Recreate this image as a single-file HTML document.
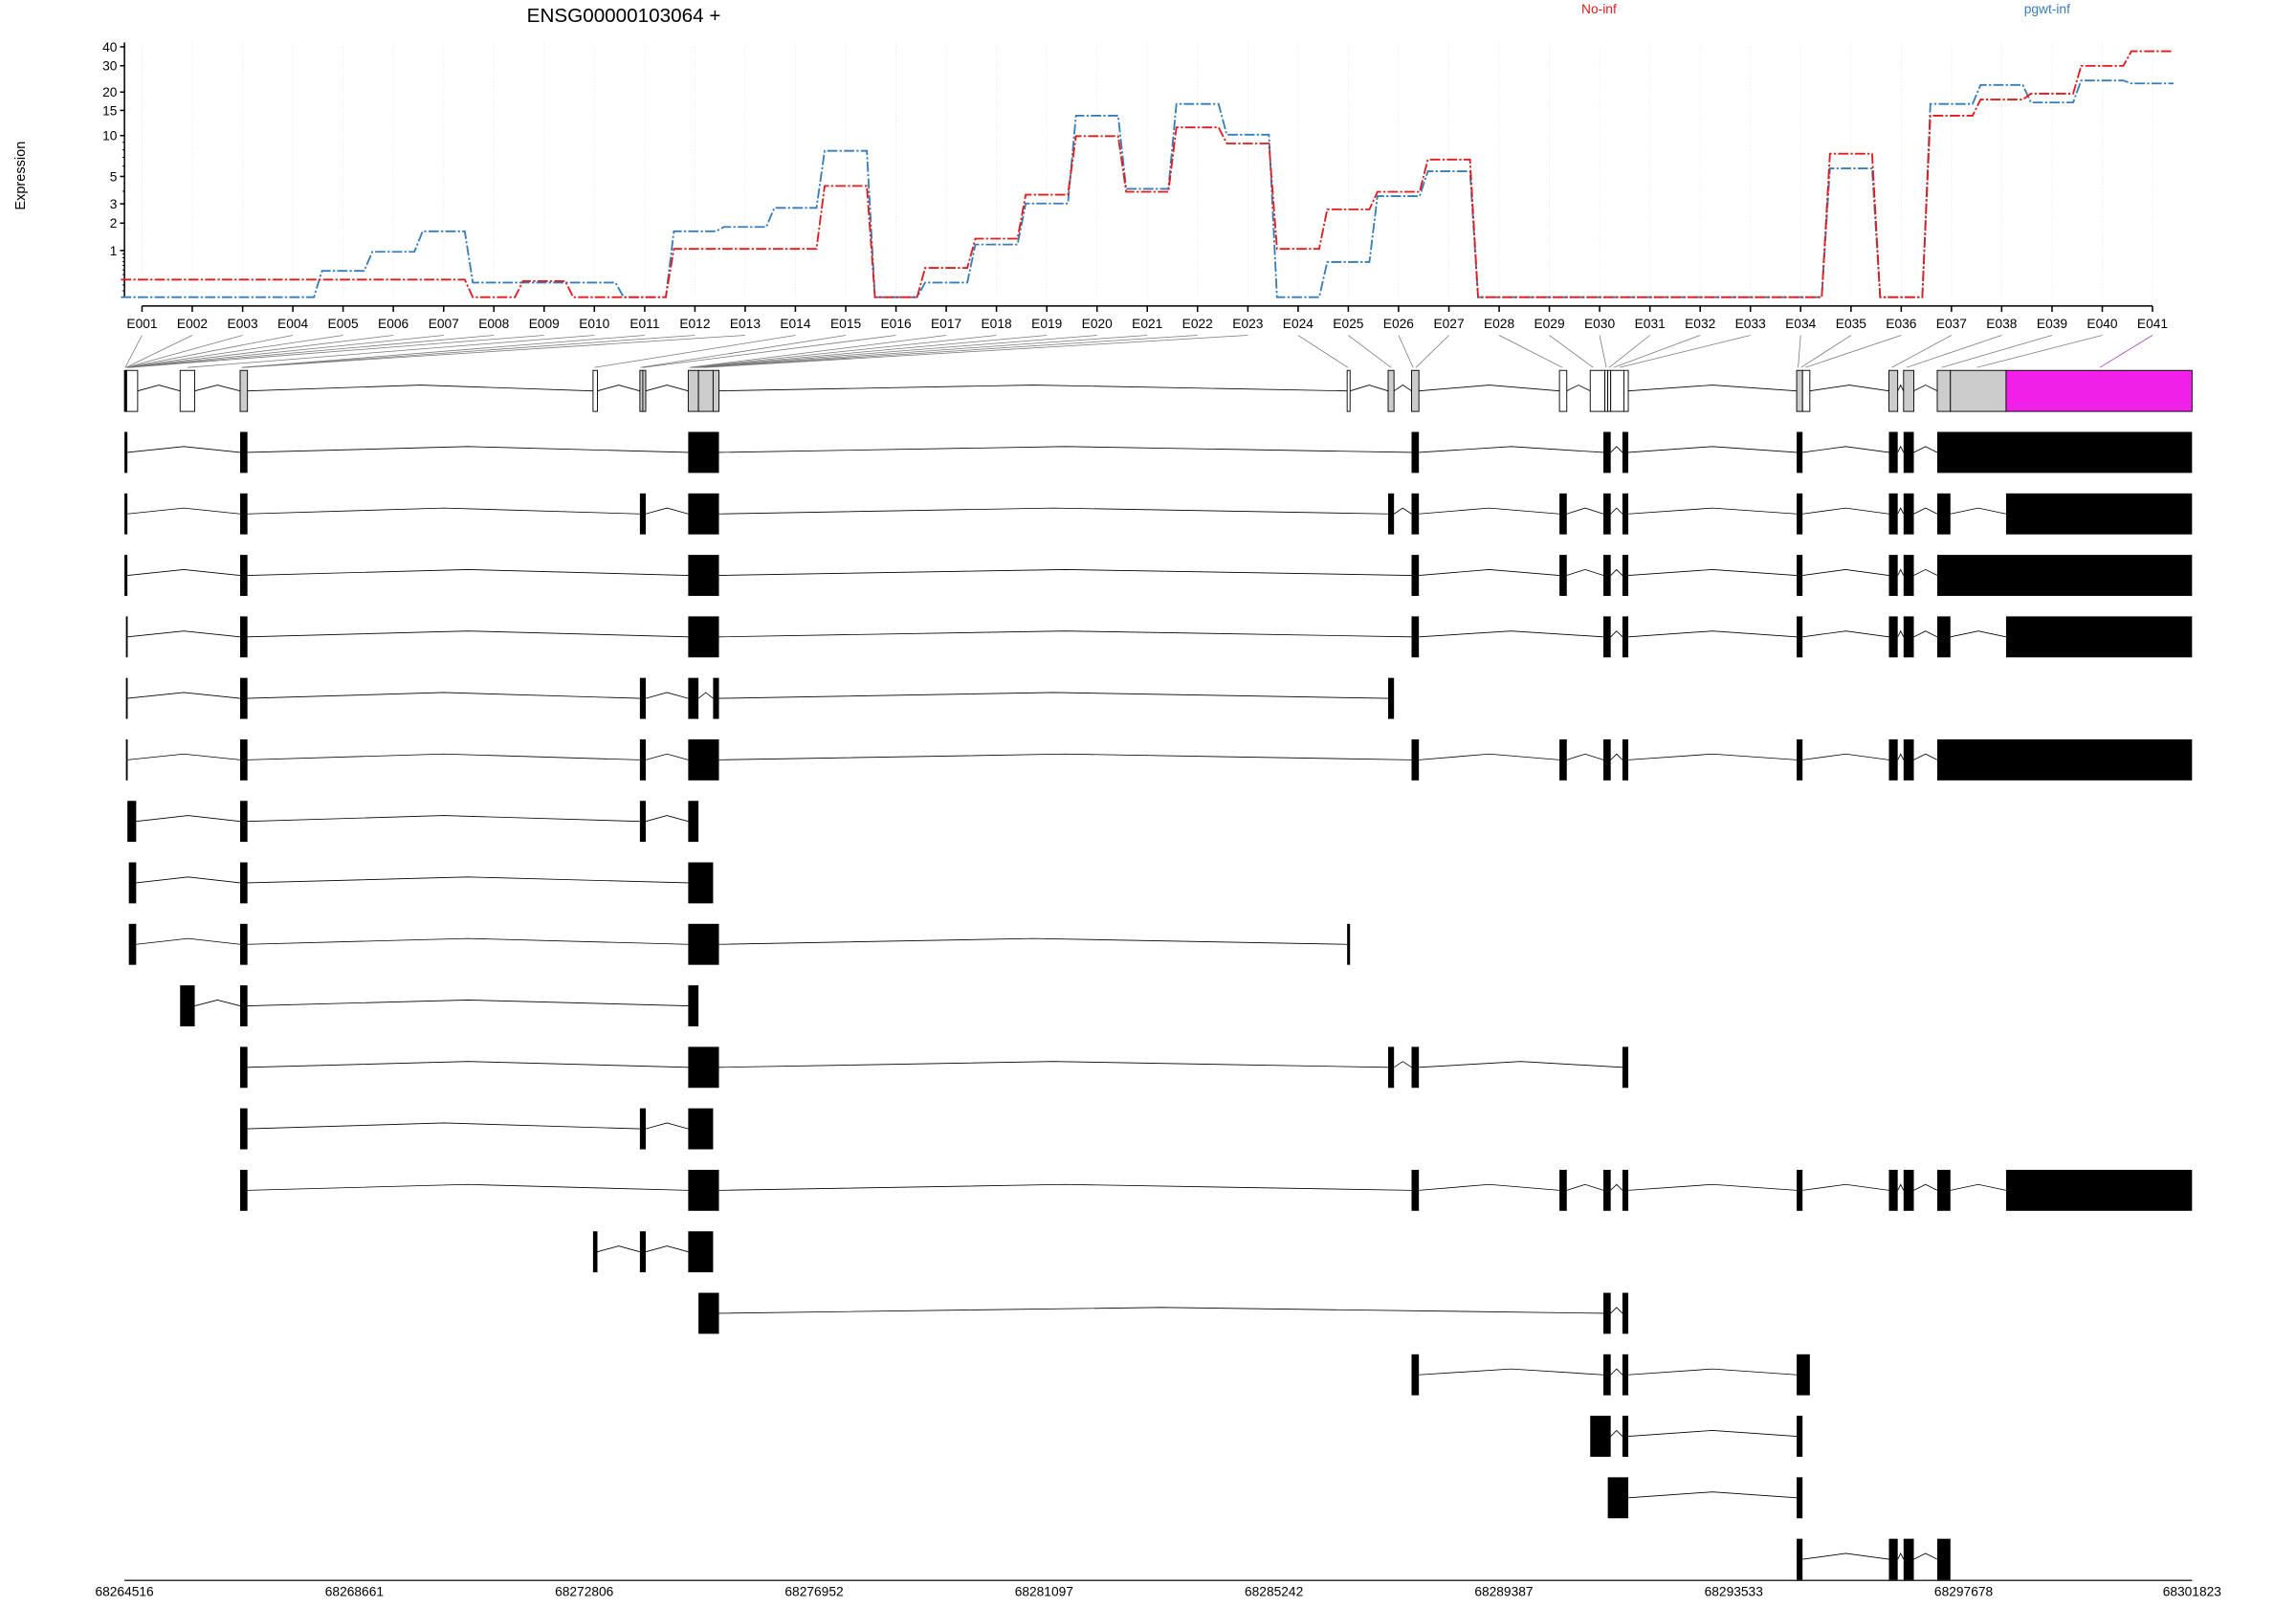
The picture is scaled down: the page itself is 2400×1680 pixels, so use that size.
<!DOCTYPE html>
<html><head><meta charset="utf-8"><style>html,body{margin:0;padding:0;background:#fff}svg{display:block}</style></head>
<body>
<svg xmlns="http://www.w3.org/2000/svg" width="2400" height="1680" viewBox="0 0 1568 1097.6" font-family="Liberation Sans, sans-serif">
<rect x="0" y="0" width="1568" height="1097.6" fill="#fff"/>
<text x="426" y="15" font-size="13.5" text-anchor="middle">ENSG00000103064 +</text>
<text x="1092" y="9" font-size="9" fill="#e41a1c" text-anchor="middle">No-inf</text>
<text x="1398" y="9" font-size="9" fill="#377eb8" text-anchor="middle">pgwt-inf</text>
<text transform="translate(17,120) rotate(-90)" font-size="9.5" text-anchor="middle">Expression</text>
<g stroke="#eee" stroke-width="0.6" stroke-dasharray="1,1">
<line x1="97" y1="30" x2="97" y2="203"/><line x1="131.3" y1="30" x2="131.3" y2="203"/><line x1="165.7" y1="30" x2="165.7" y2="203"/><line x1="200" y1="30" x2="200" y2="203"/><line x1="234.3" y1="30" x2="234.3" y2="203"/><line x1="268.6" y1="30" x2="268.6" y2="203"/><line x1="303" y1="30" x2="303" y2="203"/><line x1="337.3" y1="30" x2="337.3" y2="203"/><line x1="371.6" y1="30" x2="371.6" y2="203"/><line x1="405.9" y1="30" x2="405.9" y2="203"/><line x1="440.3" y1="30" x2="440.3" y2="203"/><line x1="474.6" y1="30" x2="474.6" y2="203"/><line x1="508.9" y1="30" x2="508.9" y2="203"/><line x1="543.2" y1="30" x2="543.2" y2="203"/><line x1="577.6" y1="30" x2="577.6" y2="203"/><line x1="611.9" y1="30" x2="611.9" y2="203"/><line x1="646.2" y1="30" x2="646.2" y2="203"/><line x1="680.5" y1="30" x2="680.5" y2="203"/><line x1="714.9" y1="30" x2="714.9" y2="203"/><line x1="749.2" y1="30" x2="749.2" y2="203"/><line x1="783.5" y1="30" x2="783.5" y2="203"/><line x1="817.8" y1="30" x2="817.8" y2="203"/><line x1="852.2" y1="30" x2="852.2" y2="203"/><line x1="886.5" y1="30" x2="886.5" y2="203"/><line x1="920.8" y1="30" x2="920.8" y2="203"/><line x1="955.1" y1="30" x2="955.1" y2="203"/><line x1="989.5" y1="30" x2="989.5" y2="203"/><line x1="1023.8" y1="30" x2="1023.8" y2="203"/><line x1="1058.1" y1="30" x2="1058.1" y2="203"/><line x1="1092.4" y1="30" x2="1092.4" y2="203"/><line x1="1126.8" y1="30" x2="1126.8" y2="203"/><line x1="1161.1" y1="30" x2="1161.1" y2="203"/><line x1="1195.4" y1="30" x2="1195.4" y2="203"/><line x1="1229.7" y1="30" x2="1229.7" y2="203"/><line x1="1264.1" y1="30" x2="1264.1" y2="203"/><line x1="1298.4" y1="30" x2="1298.4" y2="203"/><line x1="1332.7" y1="30" x2="1332.7" y2="203"/><line x1="1367" y1="30" x2="1367" y2="203"/><line x1="1401.4" y1="30" x2="1401.4" y2="203"/><line x1="1435.7" y1="30" x2="1435.7" y2="203"/><line x1="1470" y1="30" x2="1470" y2="203"/>
</g>
<g stroke="#000" stroke-width="1">
<line x1="85" y1="29" x2="85" y2="203.5"/>
<line x1="82" y1="32" x2="85" y2="32"/><line x1="82" y1="44.9" x2="85" y2="44.9"/><line x1="82" y1="62.9" x2="85" y2="62.9"/><line x1="82" y1="75.4" x2="85" y2="75.4"/><line x1="82" y1="92.6" x2="85" y2="92.6"/><line x1="82" y1="120.5" x2="85" y2="120.5"/><line x1="82" y1="139.2" x2="85" y2="139.2"/><line x1="82" y1="152.4" x2="85" y2="152.4"/><line x1="82" y1="171.1" x2="85" y2="171.1"/>
</g>
<g stroke="#000" stroke-width="0.6">
<line x1="83.5" y1="130.6" x2="85" y2="130.6"/><line x1="83.5" y1="113.5" x2="85" y2="113.5"/><line x1="83.5" y1="107.5" x2="85" y2="107.5"/><line x1="83.5" y1="102.3" x2="85" y2="102.3"/><line x1="83.5" y1="97.2" x2="85" y2="97.2"/>
<line x1="83.5" y1="198.6" x2="85" y2="198.6"/><line x1="83.5" y1="194.6" x2="85" y2="194.6"/><line x1="83.5" y1="190.9" x2="85" y2="190.9"/><line x1="83.5" y1="187.5" x2="85" y2="187.5"/><line x1="83.5" y1="184.3" x2="85" y2="184.3"/><line x1="83.5" y1="181.3" x2="85" y2="181.3"/><line x1="83.5" y1="178.6" x2="85" y2="178.6"/><line x1="83.5" y1="176" x2="85" y2="176"/><line x1="83.5" y1="173.5" x2="85" y2="173.5"/>
</g>
<g font-size="9" text-anchor="end">
<text x="80" y="35.2">40</text><text x="80" y="48.1">30</text><text x="80" y="66.1">20</text><text x="80" y="78.6">15</text><text x="80" y="95.8">10</text><text x="80" y="123.7">5</text><text x="80" y="142.4">3</text><text x="80" y="155.6">2</text><text x="80" y="174.3">1</text>
</g>
<polyline fill="none" stroke="#377eb8" stroke-width="1.2" stroke-dasharray="7,1.5,1.5,1.5" points="82.6,203 111.4,203 116.9,203 145.7,203 151.3,203 180.1,203 185.6,203 214.4,203 219.9,185 248.7,185 254.2,172 283,172 288.6,158 317.4,158 322.9,193 351.7,193 357.2,193 386,193 391.5,193 420.3,193 425.9,203 454.7,203 460.2,158 489,158 494.5,155 523.3,155 528.8,142 557.6,142 563.2,103 592,103 597.5,203 626.3,203 631.8,193 660.6,193 666.1,167 694.9,167 700.5,139 729.3,139 734.8,79 763.6,79 769.1,129 797.9,129 803.4,71 832.2,71 837.8,92 866.6,92 872.1,203 900.9,203 906.4,179 935.2,179 940.7,134 969.5,134 975.1,117 1003.9,117 1009.4,203 1038.2,203 1043.7,203 1072.5,203 1078,203 1106.8,203 1112.4,203 1141.2,203 1146.7,203 1175.5,203 1181,203 1209.8,203 1215.3,203 1244.1,203 1249.7,115 1278.5,115 1284,203 1312.8,203 1318.3,71 1347.1,71 1352.6,58 1381.4,58 1387,70 1415.8,70 1421.3,55 1450.1,55 1455.6,57 1484.4,57"/>
<polyline fill="none" stroke="#e41a1c" stroke-width="1.2" stroke-dasharray="7,1.5,1.5,1.5" points="82.6,191 111.4,191 116.9,191 145.7,191 151.3,191 180.1,191 185.6,191 214.4,191 219.9,191 248.7,191 254.2,191 283,191 288.6,191 317.4,191 322.9,203 351.7,203 357.2,192 386,192 391.5,203 420.3,203 425.9,203 454.7,203 460.2,170 489,170 494.5,170 523.3,170 528.8,170 557.6,170 563.2,127 592,127 597.5,203 626.3,203 631.8,183 660.6,183 666.1,163 694.9,163 700.5,133 729.3,133 734.8,93 763.6,93 769.1,131 797.9,131 803.4,87 832.2,87 837.8,98 866.6,98 872.1,170 900.9,170 906.4,143 935.2,143 940.7,131 969.5,131 975.1,109 1003.9,109 1009.4,203 1038.2,203 1043.7,203 1072.5,203 1078,203 1106.8,203 1112.4,203 1141.2,203 1146.7,203 1175.5,203 1181,203 1209.8,203 1215.3,203 1244.1,203 1249.7,105 1278.5,105 1284,203 1312.8,203 1318.3,79 1347.1,79 1352.6,68 1381.4,68 1387,64 1415.8,64 1421.3,45 1450.1,45 1455.6,35 1484.4,35"/>
<g stroke="#000" stroke-width="1">
<line x1="97" y1="209" x2="1470" y2="209"/>
<line x1="97" y1="209" x2="97" y2="213"/><line x1="131.3" y1="209" x2="131.3" y2="213"/><line x1="165.7" y1="209" x2="165.7" y2="213"/><line x1="200" y1="209" x2="200" y2="213"/><line x1="234.3" y1="209" x2="234.3" y2="213"/><line x1="268.6" y1="209" x2="268.6" y2="213"/><line x1="303" y1="209" x2="303" y2="213"/><line x1="337.3" y1="209" x2="337.3" y2="213"/><line x1="371.6" y1="209" x2="371.6" y2="213"/><line x1="405.9" y1="209" x2="405.9" y2="213"/><line x1="440.3" y1="209" x2="440.3" y2="213"/><line x1="474.6" y1="209" x2="474.6" y2="213"/><line x1="508.9" y1="209" x2="508.9" y2="213"/><line x1="543.2" y1="209" x2="543.2" y2="213"/><line x1="577.6" y1="209" x2="577.6" y2="213"/><line x1="611.9" y1="209" x2="611.9" y2="213"/><line x1="646.2" y1="209" x2="646.2" y2="213"/><line x1="680.5" y1="209" x2="680.5" y2="213"/><line x1="714.9" y1="209" x2="714.9" y2="213"/><line x1="749.2" y1="209" x2="749.2" y2="213"/><line x1="783.5" y1="209" x2="783.5" y2="213"/><line x1="817.8" y1="209" x2="817.8" y2="213"/><line x1="852.2" y1="209" x2="852.2" y2="213"/><line x1="886.5" y1="209" x2="886.5" y2="213"/><line x1="920.8" y1="209" x2="920.8" y2="213"/><line x1="955.1" y1="209" x2="955.1" y2="213"/><line x1="989.5" y1="209" x2="989.5" y2="213"/><line x1="1023.8" y1="209" x2="1023.8" y2="213"/><line x1="1058.1" y1="209" x2="1058.1" y2="213"/><line x1="1092.4" y1="209" x2="1092.4" y2="213"/><line x1="1126.8" y1="209" x2="1126.8" y2="213"/><line x1="1161.1" y1="209" x2="1161.1" y2="213"/><line x1="1195.4" y1="209" x2="1195.4" y2="213"/><line x1="1229.7" y1="209" x2="1229.7" y2="213"/><line x1="1264.1" y1="209" x2="1264.1" y2="213"/><line x1="1298.4" y1="209" x2="1298.4" y2="213"/><line x1="1332.7" y1="209" x2="1332.7" y2="213"/><line x1="1367" y1="209" x2="1367" y2="213"/><line x1="1401.4" y1="209" x2="1401.4" y2="213"/><line x1="1435.7" y1="209" x2="1435.7" y2="213"/><line x1="1470" y1="209" x2="1470" y2="213"/>
</g>
<g font-size="9" text-anchor="middle">
<text x="97" y="224">E001</text><text x="131.3" y="224">E002</text><text x="165.7" y="224">E003</text><text x="200" y="224">E004</text><text x="234.3" y="224">E005</text><text x="268.6" y="224">E006</text><text x="303" y="224">E007</text><text x="337.3" y="224">E008</text><text x="371.6" y="224">E009</text><text x="405.9" y="224">E010</text><text x="440.3" y="224">E011</text><text x="474.6" y="224">E012</text><text x="508.9" y="224">E013</text><text x="543.2" y="224">E014</text><text x="577.6" y="224">E015</text><text x="611.9" y="224">E016</text><text x="646.2" y="224">E017</text><text x="680.5" y="224">E018</text><text x="714.9" y="224">E019</text><text x="749.2" y="224">E020</text><text x="783.5" y="224">E021</text><text x="817.8" y="224">E022</text><text x="852.2" y="224">E023</text><text x="886.5" y="224">E024</text><text x="920.8" y="224">E025</text><text x="955.1" y="224">E026</text><text x="989.5" y="224">E027</text><text x="1023.8" y="224">E028</text><text x="1058.1" y="224">E029</text><text x="1092.4" y="224">E030</text><text x="1126.8" y="224">E031</text><text x="1161.1" y="224">E032</text><text x="1195.4" y="224">E033</text><text x="1229.7" y="224">E034</text><text x="1264.1" y="224">E035</text><text x="1298.4" y="224">E036</text><text x="1332.7" y="224">E037</text><text x="1367" y="224">E038</text><text x="1401.4" y="224">E039</text><text x="1435.7" y="224">E040</text><text x="1470" y="224">E041</text>
</g>
<g stroke="#777" stroke-width="0.5">
<line x1="97" y1="229" x2="85.5" y2="251"/><line x1="131.3" y1="229" x2="86" y2="251"/><line x1="165.7" y1="229" x2="86.3" y2="251"/><line x1="200" y1="229" x2="86.6" y2="251"/><line x1="234.3" y1="229" x2="86.9" y2="251"/><line x1="268.6" y1="229" x2="87.2" y2="251"/><line x1="303" y1="229" x2="87.5" y2="251"/><line x1="337.3" y1="229" x2="87.8" y2="251"/><line x1="371.6" y1="229" x2="88.1" y2="251"/><line x1="405.9" y1="229" x2="128" y2="251"/><line x1="440.3" y1="229" x2="165" y2="251"/><line x1="474.6" y1="229" x2="165.5" y2="251"/><line x1="508.9" y1="229" x2="166" y2="251"/><line x1="543.2" y1="229" x2="406" y2="251"/><line x1="577.6" y1="229" x2="437.5" y2="251"/><line x1="611.9" y1="229" x2="439" y2="251"/><line x1="646.2" y1="229" x2="471" y2="251"/><line x1="680.5" y1="229" x2="472" y2="251"/><line x1="714.9" y1="229" x2="473" y2="251"/><line x1="749.2" y1="229" x2="474" y2="251"/><line x1="783.5" y1="229" x2="476" y2="251"/><line x1="817.8" y1="229" x2="478" y2="251"/><line x1="852.2" y1="229" x2="481" y2="251"/><line x1="886.5" y1="229" x2="920.5" y2="251"/><line x1="920.8" y1="229" x2="950" y2="251"/><line x1="955.1" y1="229" x2="965" y2="251"/><line x1="989.5" y1="229" x2="967" y2="251"/><line x1="1023.8" y1="229" x2="1067" y2="251"/><line x1="1058.1" y1="229" x2="1088" y2="251"/><line x1="1092.4" y1="229" x2="1097" y2="251"/><line x1="1126.8" y1="229" x2="1099" y2="251"/><line x1="1161.1" y1="229" x2="1102" y2="251"/><line x1="1195.4" y1="229" x2="1106" y2="251"/><line x1="1229.7" y1="229" x2="1228" y2="251"/><line x1="1264.1" y1="229" x2="1230" y2="251"/><line x1="1298.4" y1="229" x2="1233" y2="251"/><line x1="1332.7" y1="229" x2="1292" y2="251"/><line x1="1367" y1="229" x2="1302" y2="251"/><line x1="1401.4" y1="229" x2="1326" y2="251"/><line x1="1435.7" y1="229" x2="1350" y2="251"/>
<line x1="1470" y1="229" x2="1434" y2="251" stroke="#a040c0"/>
</g>
<g fill="none" stroke="#000" stroke-width="0.55">
<path d="M94 267L108.5 263L123 267M133 267L148.5 263L164 267M169 267L287 263L405 267M408 267L422.5 263L437 267M441 267L455.5 263L470 267M491 267L705.5 263L920 267M922 267L935 263L948 267M952 267L958 263L964 267M969 267L1017 263L1065 267M1070 267L1078 263L1086 267M1112 267L1169.5 263L1227 267M1236 267L1263 263L1290 267M1296 267L1298 263L1300 267M1307 267L1315 263L1323 267"/>
<path d="M87 309L125.5 305L164 309M169 309L319.5 305L470 309M491 309L727.5 305L964 309M969 309L1032 305L1095 309M1100 309L1104 305L1108 309M1112 309L1169.5 305L1227 309M1231 309L1260.5 305L1290 309M1296 309L1298 305L1300 309M1307 309L1315 305L1323 309"/>
<path d="M87 351L125.5 347L164 351M169 351L303 347L437 351M441 351L455.5 347L470 351M491 351L719.5 347L948 351M952 351L958 347L964 351M969 351L1017 347L1065 351M1070 351L1082.5 347L1095 351M1100 351L1104 347L1108 351M1112 351L1169.5 347L1227 351M1231 351L1260.5 347L1290 351M1296 351L1298 347L1300 351M1307 351L1315 347L1323 351M1332 351L1351 347L1370 351"/>
<path d="M87 393L125.5 389L164 393M169 393L319.5 389L470 393M491 393L727.5 389L964 393M969 393L1017 389L1065 393M1070 393L1082.5 389L1095 393M1100 393L1104 389L1108 393M1112 393L1169.5 389L1227 393M1231 393L1260.5 389L1290 393M1296 393L1298 389L1300 393M1307 393L1315 389L1323 393"/>
<path d="M87 435L125.5 431L164 435M169 435L319.5 431L470 435M491 435L727.5 431L964 435M969 435L1032 431L1095 435M1100 435L1104 431L1108 435M1112 435L1169.5 431L1227 435M1231 435L1260.5 431L1290 435M1296 435L1298 431L1300 435M1307 435L1315 431L1323 435M1332 435L1351 431L1370 435"/>
<path d="M87 477L125.5 473L164 477M169 477L303 473L437 477M441 477L455.5 473L470 477M477 477L482 473L487 477M491 477L719.5 473L948 477"/>
<path d="M87 519L125.5 515L164 519M169 519L303 515L437 519M441 519L455.5 515L470 519M491 519L727.5 515L964 519M969 519L1017 515L1065 519M1070 519L1082.5 515L1095 519M1100 519L1104 515L1108 519M1112 519L1169.5 515L1227 519M1231 519L1260.5 515L1290 519M1296 519L1298 515L1300 519M1307 519L1315 515L1323 519"/>
<path d="M93 561L128.5 557L164 561M169 561L303 557L437 561M441 561L455.5 557L470 561"/>
<path d="M93 603L128.5 599L164 603M169 603L319.5 599L470 603"/>
<path d="M93 645L128.5 641L164 645M169 645L319.5 641L470 645M491 645L705.5 641L920 645"/>
<path d="M133 687L148.5 683L164 687M169 687L319.5 683L470 687"/>
<path d="M169 729L319.5 725L470 729M491 729L719.5 725L948 729M952 729L958 725L964 729M969 729L1038.5 725L1108 729"/>
<path d="M169 771L303 767L437 771M441 771L455.5 767L470 771"/>
<path d="M169 813L319.5 809L470 813M491 813L727.5 809L964 813M969 813L1017 809L1065 813M1070 813L1082.5 809L1095 813M1100 813L1104 809L1108 813M1112 813L1169.5 809L1227 813M1231 813L1260.5 809L1290 813M1296 813L1298 809L1300 813M1307 813L1315 809L1323 813M1332 813L1351 809L1370 813"/>
<path d="M408 855L422.5 851L437 855M441 855L455.5 851L470 855"/>
<path d="M491 897L793 893L1095 897M1100 897L1104 893L1108 897"/>
<path d="M969 939L1032 935L1095 939M1100 939L1104 935L1108 939M1112 939L1169.5 935L1227 939"/>
<path d="M1100 981L1104 977L1108 981M1112 981L1169.5 977L1227 981"/>
<path d="M1112 1023L1169.5 1019L1227 1023"/>
<path d="M1231 1065L1260.5 1061L1290 1065M1296 1065L1298 1061L1300 1065M1307 1065L1315 1061L1323 1065"/>
</g>
<g stroke="#000" stroke-width="0.6">
<rect x="85" y="253" width="1.5" height="28" fill="#000"/>
<rect x="86.5" y="253" width="7.5" height="28" fill="#fff"/>
<rect x="123" y="253" width="10" height="28" fill="#fff"/>
<rect x="164" y="253" width="5" height="28" fill="#ccc"/>
<rect x="405" y="253" width="3" height="28" fill="#fff"/>
<rect x="437" y="253" width="2" height="28" fill="#ccc"/>
<rect x="439" y="253" width="2" height="28" fill="#ccc"/>
<rect x="470" y="253" width="7" height="28" fill="#ccc"/>
<rect x="477" y="253" width="10" height="28" fill="#ccc"/>
<rect x="487" y="253" width="4" height="28" fill="#ccc"/>
<rect x="920" y="253" width="2" height="28" fill="#fff"/>
<rect x="948" y="253" width="4" height="28" fill="#ccc"/>
<rect x="964" y="253" width="5" height="28" fill="#ccc"/>
<rect x="1065" y="253" width="5" height="28" fill="#fff"/>
<rect x="1086" y="253" width="10" height="28" fill="#fff"/>
<rect x="1096" y="253" width="2" height="28" fill="#fff"/>
<rect x="1098" y="253" width="2" height="28" fill="#fff"/>
<rect x="1100" y="253" width="9" height="28" fill="#fff"/>
<rect x="1109" y="253" width="3" height="28" fill="#fff"/>
<rect x="1227" y="253" width="4" height="28" fill="#ccc"/>
<rect x="1231" y="253" width="5" height="28" fill="#fff"/>
<rect x="1290" y="253" width="6" height="28" fill="#ccc"/>
<rect x="1300" y="253" width="7" height="28" fill="#ccc"/>
<rect x="1323" y="253" width="9" height="28" fill="#ccc"/>
<rect x="1332" y="253" width="38" height="28" fill="#ccc"/>
<rect x="1370" y="253" width="127" height="28" fill="#f020e8"/>
</g>
<g fill="#000">
<rect x="85" y="295" width="2" height="28"/><rect x="164" y="295" width="5" height="28"/><rect x="470" y="295" width="21" height="28"/><rect x="964" y="295" width="5" height="28"/><rect x="1095" y="295" width="5" height="28"/><rect x="1108" y="295" width="4" height="28"/><rect x="1227" y="295" width="4" height="28"/><rect x="1290" y="295" width="6" height="28"/><rect x="1300" y="295" width="7" height="28"/><rect x="1323" y="295" width="174" height="28"/>
<rect x="85" y="337" width="2" height="28"/><rect x="164" y="337" width="5" height="28"/><rect x="437" y="337" width="4" height="28"/><rect x="470" y="337" width="21" height="28"/><rect x="948" y="337" width="4" height="28"/><rect x="964" y="337" width="5" height="28"/><rect x="1065" y="337" width="5" height="28"/><rect x="1095" y="337" width="5" height="28"/><rect x="1108" y="337" width="4" height="28"/><rect x="1227" y="337" width="4" height="28"/><rect x="1290" y="337" width="6" height="28"/><rect x="1300" y="337" width="7" height="28"/><rect x="1323" y="337" width="9" height="28"/><rect x="1370" y="337" width="127" height="28"/>
<rect x="85" y="379" width="2" height="28"/><rect x="164" y="379" width="5" height="28"/><rect x="470" y="379" width="21" height="28"/><rect x="964" y="379" width="5" height="28"/><rect x="1065" y="379" width="5" height="28"/><rect x="1095" y="379" width="5" height="28"/><rect x="1108" y="379" width="4" height="28"/><rect x="1227" y="379" width="4" height="28"/><rect x="1290" y="379" width="6" height="28"/><rect x="1300" y="379" width="7" height="28"/><rect x="1323" y="379" width="174" height="28"/>
<rect x="86" y="421" width="1.2" height="28"/><rect x="164" y="421" width="5" height="28"/><rect x="470" y="421" width="21" height="28"/><rect x="964" y="421" width="5" height="28"/><rect x="1095" y="421" width="5" height="28"/><rect x="1108" y="421" width="4" height="28"/><rect x="1227" y="421" width="4" height="28"/><rect x="1290" y="421" width="6" height="28"/><rect x="1300" y="421" width="7" height="28"/><rect x="1323" y="421" width="9" height="28"/><rect x="1370" y="421" width="127" height="28"/>
<rect x="86" y="463" width="1.2" height="28"/><rect x="164" y="463" width="5" height="28"/><rect x="437" y="463" width="4" height="28"/><rect x="470" y="463" width="7" height="28"/><rect x="487" y="463" width="4" height="28"/><rect x="948" y="463" width="4" height="28"/>
<rect x="86" y="505" width="1.2" height="28"/><rect x="164" y="505" width="5" height="28"/><rect x="437" y="505" width="4" height="28"/><rect x="470" y="505" width="21" height="28"/><rect x="964" y="505" width="5" height="28"/><rect x="1065" y="505" width="5" height="28"/><rect x="1095" y="505" width="5" height="28"/><rect x="1108" y="505" width="4" height="28"/><rect x="1227" y="505" width="4" height="28"/><rect x="1290" y="505" width="6" height="28"/><rect x="1300" y="505" width="7" height="28"/><rect x="1323" y="505" width="174" height="28"/>
<rect x="87" y="547" width="6" height="28"/><rect x="164" y="547" width="5" height="28"/><rect x="437" y="547" width="4" height="28"/><rect x="470" y="547" width="7" height="28"/>
<rect x="88" y="589" width="5" height="28"/><rect x="164" y="589" width="5" height="28"/><rect x="470" y="589" width="17" height="28"/>
<rect x="88" y="631" width="5" height="28"/><rect x="164" y="631" width="5" height="28"/><rect x="470" y="631" width="21" height="28"/><rect x="920" y="631" width="2" height="28"/>
<rect x="123" y="673" width="10" height="28"/><rect x="164" y="673" width="5" height="28"/><rect x="470" y="673" width="7" height="28"/>
<rect x="164" y="715" width="5" height="28"/><rect x="470" y="715" width="21" height="28"/><rect x="948" y="715" width="4" height="28"/><rect x="964" y="715" width="5" height="28"/><rect x="1108" y="715" width="4" height="28"/>
<rect x="164" y="757" width="5" height="28"/><rect x="437" y="757" width="4" height="28"/><rect x="470" y="757" width="17" height="28"/>
<rect x="164" y="799" width="5" height="28"/><rect x="470" y="799" width="21" height="28"/><rect x="964" y="799" width="5" height="28"/><rect x="1065" y="799" width="5" height="28"/><rect x="1095" y="799" width="5" height="28"/><rect x="1108" y="799" width="4" height="28"/><rect x="1227" y="799" width="4" height="28"/><rect x="1290" y="799" width="6" height="28"/><rect x="1300" y="799" width="7" height="28"/><rect x="1323" y="799" width="9" height="28"/><rect x="1370" y="799" width="127" height="28"/>
<rect x="405" y="841" width="3" height="28"/><rect x="437" y="841" width="4" height="28"/><rect x="470" y="841" width="17" height="28"/>
<rect x="477" y="883" width="14" height="28"/><rect x="1095" y="883" width="5" height="28"/><rect x="1108" y="883" width="4" height="28"/>
<rect x="964" y="925" width="5" height="28"/><rect x="1095" y="925" width="5" height="28"/><rect x="1108" y="925" width="4" height="28"/><rect x="1227" y="925" width="9" height="28"/>
<rect x="1086" y="967" width="14" height="28"/><rect x="1108" y="967" width="4" height="28"/><rect x="1227" y="967" width="4" height="28"/>
<rect x="1098" y="1009" width="14" height="28"/><rect x="1227" y="1009" width="4" height="28"/>
<rect x="1227" y="1051" width="4" height="28"/><rect x="1290" y="1051" width="6" height="28"/><rect x="1300" y="1051" width="7" height="28"/><rect x="1323" y="1051" width="9" height="28"/>
</g>
<line x1="85" y1="1079.5" x2="1497" y2="1079.5" stroke="#333" stroke-width="1"/>
<g font-size="9" text-anchor="middle">
<text x="85" y="1090">68264516</text><text x="242" y="1090">68268661</text><text x="399" y="1090">68272806</text><text x="556" y="1090">68276952</text><text x="713" y="1090">68281097</text><text x="870" y="1090">68285242</text><text x="1027" y="1090">68289387</text><text x="1184" y="1090">68293533</text><text x="1341" y="1090">68297678</text><text x="1497" y="1090">68301823</text>
</g>
</svg>
</body></html>
